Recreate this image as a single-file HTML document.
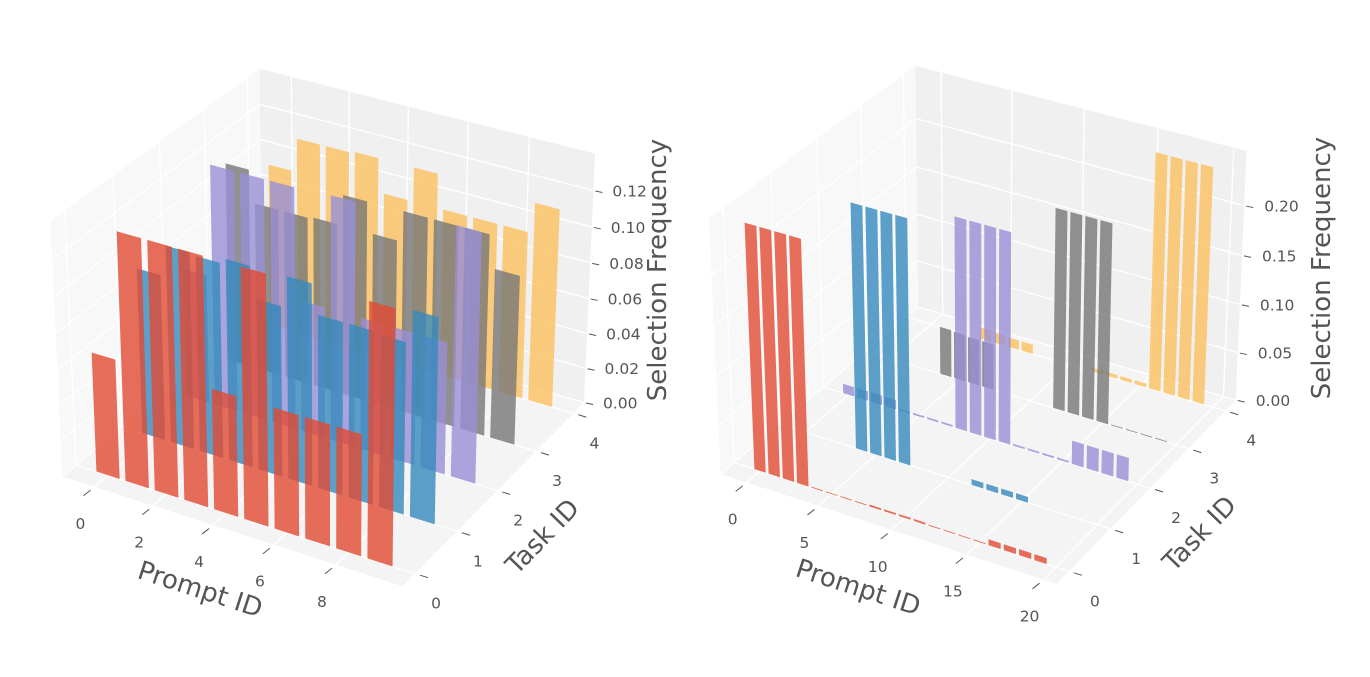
<!DOCTYPE html>
<html>
<head>
<meta charset="utf-8">
<style>
  html, body { margin: 0; padding: 0; background: #ffffff; }
  svg { display: block; font-family: "DejaVu Sans", "Liberation Sans", sans-serif; }
</style>
</head>
<body>
<svg id="chart" width="1370" height="677" viewBox="0 0 1370 677" xmlns="http://www.w3.org/2000/svg"></svg>
<script>
// ---------------- LEFT PANEL DATA ----------------
const leftPrompts = [0, 1, 2, 3, 4, 5, 6, 7, 8, 9];
const leftTaskIds = [0, 1, 2, 3, 4];
const leftTask0 = [0.067, 0.137, 0.137, 0.137, 0.067, 0.137, 0.067, 0.067, 0.067, 0.138];
const leftTask1 = [0.093, 0.110, 0.109, 0.112, 0.095, 0.112, 0.096, 0.096, 0.095, 0.113];
const leftTask2 = [0.073, 0.135, 0.135, 0.135, 0.074, 0.136, 0.074, 0.074, 0.074, 0.138];
const leftTask3 = [0.113, 0.095, 0.095, 0.096, 0.113, 0.096, 0.113, 0.113, 0.113, 0.095];
const leftTask4 = [0.094, 0.113, 0.113, 0.114, 0.095, 0.114, 0.095, 0.095, 0.095, 0.112];
const leftXTicks = [0, 2, 4, 6, 8];
const leftYTicks = [0, 1, 2, 3, 4];
const leftZTicks = [0, 0.02, 0.04, 0.06, 0.08, 0.10, 0.12];
const leftZTickLabels = ["0.00", "0.02", "0.04", "0.06", "0.08", "0.10", "0.12"];

// ---------------- RIGHT PANEL DATA ----------------
const rightPrompts = [0,1,2,3,4,5,6,7,8,9,10,11,12,13,14,15,16,17,18,19];
const rightTaskIds = [0, 1, 2, 3, 4];
const rightTask0 = [0.246,0.246,0.246,0.246, 0.001,0.001,0.001,0.001, 0.002,0.002,0.002,0.002, 0.001,0.001,0.001,0.001, 0.006,0.006,0.006,0.006];
const rightTask1 = [0,0,0,0, 0.247,0.247,0.247,0.247, 0,0,0,0, 0.006,0.006,0.006,0.006, 0,0,0,0];
const rightTask2 = [0.010,0.010,0.010,0.010, 0.002,0.002,0.002,0.002, 0.215,0.215,0.215,0.215, 0.002,0.002,0.002,0.002, 0.024,0.024,0.024,0.024];
const rightTask3 = [0,0,0,0, 0.050,0.049,0.048,0.048, 0,0,0,0, 0.205,0.205,0.205,0.205, 0.001,0.001,0.001,0.001];
const rightTask4 = [0,0,0,0, 0.012,0.011,0.010,0.010, 0,0,0,0, 0.004,0.004,0.004,0.004, 0.242,0.242,0.242,0.242];
const rightXTicks = [0, 5, 10, 15, 20];
const rightYTicks = [0, 1, 2, 3, 4];
const rightZTicks = [0, 0.05, 0.10, 0.15, 0.20];
const rightZTickLabels = ["0.00", "0.05", "0.10", "0.15", "0.20"];

const seriesColors = ["#E24A33", "#348ABD", "#988ED5", "#777777", "#FBC15E"];

const NS = "http://www.w3.org/2000/svg";
const svg = document.getElementById("chart");

function mk(tag, parent) {
  const e = document.createElementNS(NS, tag);
  parent.appendChild(e);
  return e;
}

function makeProj(lim, fitPts) {
  const aspect = [4, 4, 3];
  const nrm = Math.hypot(aspect[0], aspect[1], aspect[2]);
  const asp = aspect.map(a => a * 1.8294640721620434 / nrm);
  const el = 30 * Math.PI / 180, az = -60 * Math.PI / 180, dist = 10;
  const R = asp.map(a => a / 2);
  const ps = [Math.cos(el) * Math.cos(az), Math.cos(el) * Math.sin(az), Math.sin(el)];
  const E = R.map((r, i) => r + dist * ps[i]);
  let w = E.map((e, i) => e - R[i]);
  const wn = Math.hypot(w[0], w[1], w[2]);
  w = w.map(c => c / wn);
  let u = [-w[1], w[0], 0];
  const un = Math.hypot(u[0], u[1], u[2]);
  u = u.map(c => c / un);
  const v = [w[1] * u[2] - w[2] * u[1], w[2] * u[0] - w[0] * u[2], w[0] * u[1] - w[1] * u[0]];
  function view(x, y, z) {
    const p = [
      (x - lim.x[0]) / (lim.x[1] - lim.x[0]) * asp[0],
      (y - lim.y[0]) / (lim.y[1] - lim.y[0]) * asp[1],
      (z - lim.z[0]) / (lim.z[1] - lim.z[0]) * asp[2]
    ];
    const d = [p[0] - E[0], p[1] - E[1], p[2] - E[2]];
    const X = u[0]*d[0] + u[1]*d[1] + u[2]*d[2];
    const Y = v[0]*d[0] + v[1]*d[1] + v[2]*d[2];
    const Z = w[0]*d[0] + w[1]*d[1] + w[2]*d[2];
    return [X / (-Z), Y / (-Z), Z];
  }
  function fit(sArr, pArr) {
    const n = sArr.length;
    const ms = sArr.reduce((a, b) => a + b, 0) / n;
    const mp = pArr.reduce((a, b) => a + b, 0) / n;
    let num = 0, den = 0;
    for (let i = 0; i < n; i++) { num += (sArr[i] - ms) * (pArr[i] - mp); den += (sArr[i] - ms) ** 2; }
    const a = num / den;
    return [a, mp - a * ms];
  }
  const sx = [], sy = [], px = [], py = [];
  fitPts.forEach(fp => {
    const r = view(fp[0][0], fp[0][1], fp[0][2]);
    sx.push(r[0]); sy.push(r[1]); px.push(fp[1][0]); py.push(fp[1][1]);
  });
  const fx = fit(sx, px), fy = fit(sy, py);
  const P = function (x, y, z) {
    const r = view(x, y, z);
    return [fx[0] * r[0] + fx[1], fy[0] * r[1] + fy[1]];
  };
  P.depth = function (x, y, z) { return view(x, y, z)[2]; };
  return P;
}

function ptsStr(P, arr) {
  return arr.map(p => { const q = P(p[0], p[1], p[2]); return q[0].toFixed(2) + "," + q[1].toFixed(2); }).join(" ");
}

function drawPanel(cfg) {
  const g = mk("g", svg);
  
  
  const L = cfg.lim;
  const P = makeProj(L, cfg.fitPts);
  const x0 = L.x[0], x1 = L.x[1], y0 = L.y[0], y1 = L.y[1], z0 = L.z[0], z1 = L.z[1];

  const floor = mk("polygon", g);
  
  
  floor.setAttribute("points", ptsStr(P, [[x0,y0,z0],[x1,y0,z0],[x1,y1,z0],[x0,y1,z0]]));
  floor.setAttribute("fill", "#F4F4F4");
  const back = mk("polygon", g);
  
  
  back.setAttribute("points", ptsStr(P, [[x0,y1,z0],[x1,y1,z0],[x1,y1,z1],[x0,y1,z1]]));
  back.setAttribute("fill", "#F0F0F0");
  const side = mk("polygon", g);
  
  
  side.setAttribute("points", ptsStr(P, [[x0,y0,z0],[x0,y1,z0],[x0,y1,z1],[x0,y0,z1]]));
  side.setAttribute("fill", "#F8F8F8");

  const grid = mk("g", g);
  
  
  function gl(a, b) {
    const p = P(a[0], a[1], a[2]), q = P(b[0], b[1], b[2]);
    const l = mk("line", grid);
    
    
    l.setAttribute("x1", p[0]); l.setAttribute("y1", p[1]);
    l.setAttribute("x2", q[0]); l.setAttribute("y2", q[1]);
    l.setAttribute("stroke", "#FFFFFF");
    l.setAttribute("stroke-width", "1.3");
  }
  cfg.xTicks.forEach(t => { gl([t,y0,z0],[t,y1,z0]); gl([t,y1,z0],[t,y1,z1]); });
  cfg.yTicks.forEach(t => { gl([x0,t,z0],[x1,t,z0]); gl([x0,t,z0],[x0,t,z1]); });
  cfg.zTicks.forEach(t => { gl([x0,y1,t],[x1,y1,t]); gl([x0,y0,t],[x0,y1,t]); });

  const bars = [];
  cfg.tasks.forEach((task, ti) => {
    const vals = cfg.values[ti];
    cfg.prompts.forEach((xp, i) => {
      const h = vals[i];
      if (h <= 0) return;
      bars.push({
        depth: P.depth(xp, task, h / 2),
        pts: [[xp - 0.4, task, 0], [xp + 0.4, task, 0], [xp + 0.4, task, h], [xp - 0.4, task, h]],
        color: cfg.colors[ti], task: task, prompt: xp
      });
    });
  });
  bars.sort((a, b) => a.depth - b.depth);
  const barG = mk("g", g);
  
  
  bars.forEach(b => {
    const poly = mk("polygon", barG);
    
    
    poly.setAttribute("points", ptsStr(P, b.pts));
    poly.setAttribute("fill", b.color);
    poly.setAttribute("fill-opacity", "0.8");
  });

  const tg = mk("g", g);
  
  
  function tick(p, d1, d2) {
    const l = mk("line", tg);
    
    
    l.setAttribute("x1", p[0] + d1[0]); l.setAttribute("y1", p[1] + d1[1]);
    l.setAttribute("x2", p[0] + d2[0]); l.setAttribute("y2", p[1] + d2[1]);
    l.setAttribute("stroke", "#555555");
    l.setAttribute("stroke-width", "1");
  }
  function label(x, y, txt, anchor) {
    const t = mk("text", tg);
    
    
    t.setAttribute("x", x); t.setAttribute("y", y);
    t.setAttribute("text-anchor", anchor);
    t.setAttribute("dominant-baseline", "central");
    t.setAttribute("font-size", "15.5");
    t.setAttribute("fill", "#555555");
    t.textContent = txt;
  }
  cfg.xTicks.forEach(t => {
    const p = P(t, y0, z0);
    tick(p, [-4, 3.5], [-11, 9]);
    label(p[0] - 14, p[1] + 37, String(t), "middle");
  });
  cfg.yTicks.forEach(t => {
    const p = P(x1, t, z0);
    tick(p, [5, 1.5], [13, 4]);
    label(p[0] + cfg.yLabelDx, p[1] + 30, String(t), "middle");
  });
  cfg.zTicks.forEach((t, i) => {
    const p = P(x1, y1, t);
    tick(p, [2, 0.5], [9, 2]);
    label(p[0] + cfg.zLabelDx, p[1] + 1, cfg.zTickLabels[i], "start");
  });

  function title(txt, x, y, rot, name) {
    const t = mk("text", g);
    
    
    t.setAttribute("x", x); t.setAttribute("y", y);
    t.setAttribute("text-anchor", "middle");
    t.setAttribute("dominant-baseline", "central");
    t.setAttribute("font-size", "26");
    t.setAttribute("fill", "#555555");
    t.setAttribute("transform", "rotate(" + rot + " " + x + " " + y + ")");
    t.textContent = txt;
  }
  title("Prompt ID", cfg.xTitle[0], cfg.xTitle[1], 18, "x-axis-title");
  title("Task ID", cfg.yTitle[0], cfg.yTitle[1], -46, "y-axis-title");
  title("Selection Frequency", cfg.zTitle[0], cfg.zTitle[1], -90, "z-axis-title");
}

drawPanel({
  name: "left-chart",
  lim: { x: [-1.11, 10.11], y: [-0.29, 4.29], z: [0, 0.140] },
  fitPts: [
    [[-1.11, -0.29, 0], [62, 475]],
    [[10.11, -0.29, 0], [404, 587]],
    [[10.11, 4.29, 0], [583, 403]],
    [[-1.11, -0.29, 0.140], [50, 222]],
    [[-1.11, 4.29, 0.140], [260, 69]],
    [[10.11, 4.29, 0.140], [595, 153]]
  ],
  prompts: leftPrompts,
  tasks: leftTaskIds,
  values: [leftTask0, leftTask1, leftTask2, leftTask3, leftTask4],
  colors: seriesColors,
  xTicks: leftXTicks, yTicks: leftYTicks, zTicks: leftZTicks, zTickLabels: leftZTickLabels,
  zLabelDx: 19, yLabelDx: 21,
  xTitle: [200, 590], yTitle: [543, 537], zTitle: [658, 270]
});

drawPanel({
  name: "right-chart",
  lim: { x: [-1.84, 20.84], y: [-0.29, 4.29], z: [0, 0.254] },
  fitPts: [
    [[-1.84, -0.29, 0], [720, 475]],
    [[20.84, -0.29, 0], [1060, 585]],
    [[20.84, 4.29, 0], [1228, 397]],
    [[-1.84, 4.29, 0], [919, 307]],
    [[-1.84, -0.29, 0.254], [707, 219]],
    [[-1.84, 4.29, 0.254], [917, 67]],
    [[20.84, 4.29, 0.254], [1251, 150]]
  ],
  prompts: rightPrompts,
  tasks: rightTaskIds,
  values: [rightTask0, rightTask1, rightTask2, rightTask3, rightTask4],
  colors: seriesColors,
  xTicks: rightXTicks, yTicks: rightYTicks, zTicks: rightZTicks, zTickLabels: rightZTickLabels,
  zLabelDx: 20, yLabelDx: 26,
  xTitle: [858, 588], yTitle: [1200, 534], zTitle: [1322, 268]
});
</script>
</body>
</html>
